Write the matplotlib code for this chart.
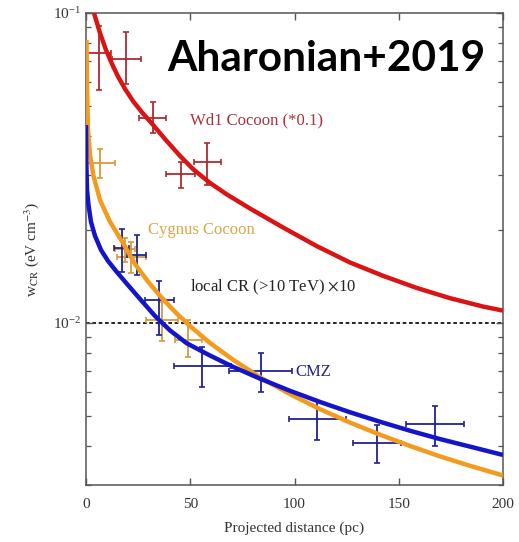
import matplotlib
matplotlib.use("Agg")
import matplotlib.pyplot as plt
from matplotlib.ticker import LogLocator, NullFormatter, FixedLocator

plt.rcParams['font.family'] = ['Liberation Serif', 'DejaVu Serif']
plt.rcParams['mathtext.fontset'] = 'stix'

# --- data points ---
wd1_x = [6.2, 19.3, 32.0, 45.4, 58.2]
wd1_y = [0.0743, 0.0712, 0.0460, 0.0303, 0.0331]
wd1_xerr = [6.0, 7.0, 6.5, 7.0, 6.6]
wd1_ylo = [0.0566, 0.0590, 0.0409, 0.0272, 0.0279]
wd1_yhi = [0.0906, 0.0868, 0.0518, 0.0331, 0.0380]

cyg_x = [6.9, 18.7, 21.8, 36.6, 49.1]
cyg_y = [0.0327, 0.01734, 0.01633, 0.01023, 0.00881]
cyg_xerr = [7.1, 5.0, 7.0, 7.6, 6.4]
cyg_ylo = [0.0294, 0.01573, 0.01449, 0.00877, 0.00779]
cyg_yhi = [0.0364, 0.0188, 0.01824, 0.01172, 0.01023]

cmz_x = [17.1, 24.3, 35.2, 55.8, 83.8, 111.0, 139.7, 167.4]
cmz_y = [0.01741, 0.01655, 0.01186, 0.00728, 0.00700, 0.00490, 0.00411, 0.00472]
cmz_xerr = [3.6, 4.4, 7.0, 13.7, 15.0, 13.8, 11.5, 14.0]
cmz_ylo = [0.01464, 0.01429, 0.00915, 0.00621, 0.00600, 0.00420, 0.00353, 0.00401]
cmz_yhi = [0.02005, 0.01923, 0.01369, 0.00839, 0.00802, 0.00559, 0.00469, 0.00540]

# --- model curves ---
wd1_curve_x = [3.84, 6.71, 9.59, 12.47, 15.35, 18.71, 22.54, 26.86, 31.99, 37.89, 45.08,
               51.46, 59.47, 67.48, 78.66, 94.63, 110.65, 126.62, 142.59, 158.61, 174.58,
               190.55, 200.0]
wd1_curve_y = [0.1000, 0.0862, 0.0760, 0.0685, 0.0624, 0.0569, 0.0520, 0.0478, 0.0437,
               0.0392, 0.0346, 0.0313, 0.0283, 0.0260, 0.0234, 0.0203, 0.0177, 0.01567,
               0.01418, 0.01297, 0.01202, 0.01129, 0.01096]

cyg_curve_x = [0.24, 0.48, 0.96, 1.92, 3.50, 6.71, 11.51, 17.75, 23.50, 29.74, 35.49,
               42.69, 49.88, 59.47, 70.50, 83.45, 97.84, 112.23, 126.62, 141.0, 155.39,
               169.79, 184.17, 200.0]
cyg_curve_y = [0.0818, 0.0586, 0.0419, 0.0348, 0.0300, 0.02493, 0.02121, 0.01811, 0.01549,
               0.01360, 0.01223, 0.01086, 0.00977, 0.00862, 0.00761, 0.00668, 0.00589,
               0.00527, 0.00477, 0.00436, 0.00401, 0.00371, 0.00346, 0.00322]

cmz_curve_x = [0.0, 0.14, 0.48, 1.20, 2.40, 4.32, 7.19, 10.55, 14.39, 19.66, 25.90, 33.09,
               40.29, 48.30, 59.47, 70.50, 83.45, 97.84, 112.23, 126.62, 141.0, 155.39,
               169.79, 184.17, 200.0]
cmz_curve_y = [0.0435, 0.0336, 0.02685, 0.02402, 0.02117, 0.01909, 0.01720, 0.01585,
               0.01471, 0.01336, 0.01195, 0.01053, 0.00946, 0.00860, 0.00785, 0.00722,
               0.00661, 0.00604, 0.00556, 0.00515, 0.00480, 0.00449, 0.00422, 0.00399,
               0.00375]

local_cr = 0.01

RED_LINE = '#d91414'
RED_PTS = '#b02a30'
ORANGE_LINE = '#f29b1e'
ORANGE_PTS = '#d79a3a'
BLUE_LINE = '#1414c8'
BLUE_PTS = '#22228c'
GREY = '#555555'


def yerr(y, lo, hi):
    return [[a - b for a, b in zip(y, lo)], [b - a for a, b in zip(y, hi)]]


fig = plt.figure(figsize=(5.19, 5.42), dpi=100)
fig.patch.set_facecolor('white')
ax = fig.add_axes([86 / 519, 1 - 485 / 542, 417 / 519, 472 / 542])

err_kw = dict(fmt='none', elinewidth=1.3, capsize=2.2, capthick=1.2, zorder=2)
ax.errorbar(wd1_x, wd1_y, xerr=wd1_xerr, yerr=yerr(wd1_y, wd1_ylo, wd1_yhi), ecolor=RED_PTS, **err_kw)
ax.errorbar(cyg_x, cyg_y, xerr=cyg_xerr, yerr=yerr(cyg_y, cyg_ylo, cyg_yhi), ecolor=ORANGE_PTS, **err_kw)
ax.errorbar(cmz_x, cmz_y, xerr=cmz_xerr, yerr=yerr(cmz_y, cmz_ylo, cmz_yhi), ecolor=BLUE_PTS, **err_kw)

line_kw = dict(lw=3.2, solid_capstyle='butt', solid_joinstyle='round')
ax.plot(cyg_curve_x, cyg_curve_y, color=ORANGE_LINE, zorder=3, **line_kw)
ax.plot(cmz_curve_x, cmz_curve_y, color=BLUE_LINE, zorder=4, **line_kw)
ax.plot(wd1_curve_x, wd1_curve_y, color=RED_LINE, zorder=4, **line_kw)

ax.axhline(local_cr, color='black', lw=1.2, ls=(0, (2.2, 1.6)), zorder=1)

ax.set_xlim(0, 200)
ax.set_yscale('log')
ax.set_ylim(3e-3, 0.1)

ax.xaxis.set_major_locator(FixedLocator([0, 50, 100, 150, 200]))
ax.yaxis.set_major_locator(LogLocator(base=10, numticks=5))
ax.yaxis.set_minor_locator(LogLocator(base=10, subs=range(2, 10), numticks=20))
ax.yaxis.set_minor_formatter(NullFormatter())
ax.tick_params(which='both', direction='in', top=True, right=True, colors=GREY,
               labelcolor='#333333', labelsize=11)
ax.tick_params(which='major', length=5, width=1)
ax.tick_params(which='minor', length=3.5, width=0.9)
ax.tick_params(axis='x', pad=9)
for s in ax.spines.values():
    s.set_color(GREY)
    s.set_linewidth(1.1)

ax.set_xlabel('Projected distance (pc)', fontsize=11, color='#333333', labelpad=8)
ax.set_ylabel(r'w$_{\rm CR}$ (eV cm$^{-3}$)', fontsize=11, color='#333333', labelpad=9)

ax.text(49.9, 0.0449, 'Wd1 Cocoon (*0.1)', color='#a8323a', fontsize=12, va='center')
ax.text(29.7, 0.0200, 'Cygnus Cocoon', color='#d9a64a', fontsize=12, va='center')
ax.text(49.9, 0.0130, r'local CR (>10 TeV) $\times$10', color='#222222', fontsize=12, va='center')
ax.text(100.5, 0.00697, 'CMZ', color=BLUE_PTS, fontsize=12, va='center')

fig.text(0.629, 0.891, 'Aharonian+2019', fontsize=30.5, fontweight='bold', color='black',
         ha='center', va='center', family=['Lato', 'DejaVu Sans'])

fig.savefig('out.png', dpi=100, facecolor='white')
